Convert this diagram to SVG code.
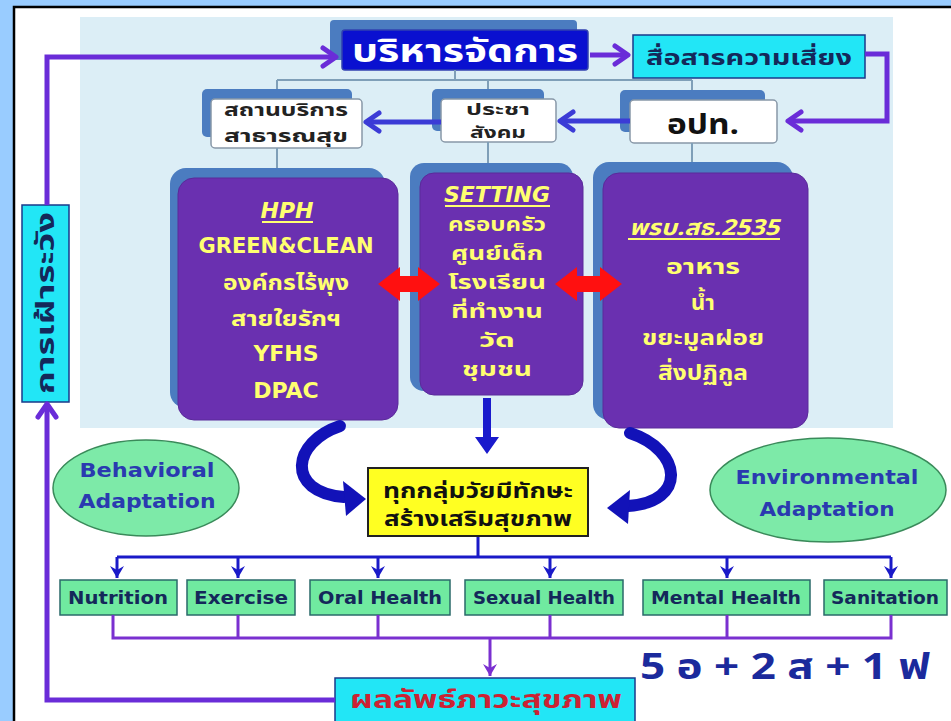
<svg xmlns="http://www.w3.org/2000/svg" width="951" height="721" viewBox="0 0 951 721">
<defs>
<style>
.th{font-family:"Noto Sans Thai","Noto Sans Thai UI","Loma","Garuda","Tahoma","DejaVu Sans",sans-serif;font-weight:bold}
.en{font-family:"DejaVu Sans","Liberation Sans",sans-serif;font-weight:bold}
.yel{fill:#ffff70;font-size:22px;text-anchor:middle}
.sm{font-size:19px}
.shadow{fill:#4b7cc0}
.purple{fill:#6a30b0;stroke:#5a2a9a;stroke-width:1}
.white{fill:#ffffff;stroke:#8898a8;stroke-width:1.5}
.cyan{fill:#22e6f6;stroke:#1a3a8a;stroke-width:1.5}
.green{fill:#70eaa0;stroke:#2a6a6a;stroke-width:1.5}
.glab{fill:#14285a;font-size:17px;text-anchor:middle}
.ell{fill:#2a3ab0;font-size:20px;text-anchor:middle}
.thin{stroke:#7f9fb8;stroke-width:2;fill:none}
.pline{stroke:#6a2cd8;stroke-width:5;fill:none}
.bline{stroke:#3b3bd6;stroke-width:5;fill:none}
.br{stroke:#1a1ac8;stroke-width:3;fill:none}
.pr{stroke:#7a30d0;stroke-width:3;fill:none}
.curve{stroke:#1212b8;stroke-width:12;fill:none;stroke-linecap:round}
.ul{stroke:#ffff70;stroke-width:2}
</style>
<marker id="chevP" markerUnits="userSpaceOnUse" markerWidth="24" markerHeight="24" viewBox="0 0 24 24" refX="21" refY="12" orient="auto">
<path d="M8,3 L21,12 L8,21" fill="none" stroke="#6a2cd8" stroke-width="5" stroke-linecap="round" stroke-linejoin="round"/>
</marker>
<marker id="chevB" markerUnits="userSpaceOnUse" markerWidth="24" markerHeight="24" viewBox="0 0 24 24" refX="21" refY="12" orient="auto">
<path d="M8,3 L21,12 L8,21" fill="none" stroke="#3b3bd6" stroke-width="5" stroke-linecap="round" stroke-linejoin="round"/>
</marker>
<marker id="triB" markerUnits="userSpaceOnUse" markerWidth="16" markerHeight="16" viewBox="0 0 16 16" refX="14" refY="8" orient="auto">
<path d="M2,1 L14,8 L2,15 L6,8 Z" fill="#1a1ac8"/>
</marker>
<marker id="triP" markerUnits="userSpaceOnUse" markerWidth="16" markerHeight="16" viewBox="0 0 16 16" refX="14" refY="8" orient="auto">
<path d="M2,1 L14,8 L2,15 L6,8 Z" fill="#7a30d0"/>
</marker>
</defs>

<!-- background -->
<rect x="0" y="0" width="951" height="721" fill="#99ccff"/>
<rect x="14" y="7" width="937" height="714" fill="#ffffff"/>
<path d="M14,721 V7 H951" fill="none" stroke="#000" stroke-width="2.5"/>
<rect x="80" y="17" width="813" height="411" fill="#dceef6"/>

<!-- top management -->
<g id="n-manage">
<rect class="shadow" x="330" y="20" width="247" height="40" rx="4"/>
<rect x="342" y="30" width="246" height="40" rx="3" fill="#0a10d0" stroke="#3040b0" stroke-width="1.5"/>
<text class="th" x="465" y="62" font-size="32" fill="#ffffff" text-anchor="middle" textLength="226" lengthAdjust="spacingAndGlyphs">บริหารจัดการ</text>
</g>
<g id="n-risk">
<rect class="cyan" x="633" y="35" width="232" height="43"/>
<text class="th" x="749" y="65" font-size="21" fill="#14285a" text-anchor="middle" textLength="206" lengthAdjust="spacingAndGlyphs">สื่อสารความเสี่ยง</text>
</g>
<g id="n-service">
<rect class="shadow" x="202" y="89" width="150" height="48" rx="5"/>
<rect class="white" x="211" y="99" width="151" height="49" rx="4"/>
<text class="th" x="286" y="116" font-size="17" fill="#222" text-anchor="middle" textLength="124" lengthAdjust="spacingAndGlyphs">สถานบริการ</text>
<text class="th" x="286" y="142" font-size="17" fill="#222" text-anchor="middle" textLength="124" lengthAdjust="spacingAndGlyphs">สาธารณสุข</text>
</g>
<g id="n-civil">
<rect class="shadow" x="432" y="89" width="112" height="42" rx="5"/>
<rect class="white" x="441" y="99" width="115" height="43" rx="4"/>
<text class="th" x="498" y="115" font-size="15" fill="#222" text-anchor="middle" textLength="64" lengthAdjust="spacingAndGlyphs">ประชา</text>
<text class="th" x="498" y="138" font-size="15" fill="#222" text-anchor="middle" textLength="56" lengthAdjust="spacingAndGlyphs">สังคม</text>
</g>
<g id="n-lao">
<rect class="shadow" x="620" y="90" width="145" height="42" rx="5"/>
<rect class="white" x="630" y="100" width="147" height="43" rx="4"/>
<text class="th" x="703" y="134" font-size="29" fill="#111" text-anchor="middle" textLength="72" lengthAdjust="spacingAndGlyphs">อปท.</text>
</g>

<!-- purple boxes -->
<g id="n-hph">
<rect class="shadow" x="170" y="168" width="215" height="240" rx="16"/>
<rect class="purple" x="178" y="178" width="220" height="242" rx="16"/>
<text class="en yel" x="287" y="218" font-style="italic">HPH</text>
<line class="ul" x1="262" y1="222" x2="313" y2="222"/>
<text class="en yel" x="286" y="253" textLength="175" lengthAdjust="spacingAndGlyphs">GREEN&amp;CLEAN</text>
<text class="th yel" x="286" y="290" textLength="126" lengthAdjust="spacingAndGlyphs">องค์กรไร้พุง</text>
<text class="th yel" x="286" y="326" textLength="110" lengthAdjust="spacingAndGlyphs">สายใยรักฯ</text>
<text class="en yel" x="286" y="361">YFHS</text>
<text class="en yel" x="286" y="398">DPAC</text>
</g>
<g id="n-setting">
<rect class="shadow" x="410" y="163" width="163" height="228" rx="14"/>
<rect class="purple" x="420" y="173" width="163" height="222" rx="14"/>
<text class="en yel" x="497" y="202" font-style="italic" textLength="106" lengthAdjust="spacingAndGlyphs">SETTING</text>
<line class="ul" x1="445" y1="206" x2="550" y2="206"/>
<text class="th yel sm" x="497" y="231" textLength="98" lengthAdjust="spacingAndGlyphs">ครอบครัว</text>
<text class="th yel sm" x="497" y="260" textLength="92" lengthAdjust="spacingAndGlyphs">ศูนย์เด็ก</text>
<text class="th yel sm" x="497" y="289" textLength="98" lengthAdjust="spacingAndGlyphs">โรงเรียน</text>
<text class="th yel sm" x="497" y="318" textLength="92" lengthAdjust="spacingAndGlyphs">ที่ทำงาน</text>
<text class="th yel sm" x="497" y="347" textLength="36" lengthAdjust="spacingAndGlyphs">วัด</text>
<text class="th yel sm" x="497" y="376" textLength="70" lengthAdjust="spacingAndGlyphs">ชุมชน</text>
</g>
<g id="n-act">
<rect class="shadow" x="593" y="162" width="200" height="258" rx="16"/>
<rect class="purple" x="603" y="173" width="205" height="255" rx="16"/>
<text class="th yel" x="704" y="235" font-style="italic" textLength="150" lengthAdjust="spacingAndGlyphs">พรบ.สธ.2535</text>
<line class="ul" x1="628" y1="239" x2="780" y2="239"/>
<text class="th yel" x="703" y="274" textLength="74" lengthAdjust="spacingAndGlyphs">อาหาร</text>
<text class="th yel" x="703" y="310">น้ำ</text>
<text class="th yel" x="703" y="345" textLength="122" lengthAdjust="spacingAndGlyphs">ขยะมูลฝอย</text>
<text class="th yel" x="703" y="380" textLength="90" lengthAdjust="spacingAndGlyphs">สิ่งปฏิกูล</text>
</g>

<!-- surveillance -->
<g id="n-surv">
<rect class="cyan" x="22" y="205" width="47" height="197"/>
<text class="th" transform="translate(54,303) rotate(-90)" font-size="24" fill="#14285a" text-anchor="middle" textLength="182" lengthAdjust="spacingAndGlyphs">การเฝ้าระวัง</text>
</g>

<!-- ellipses -->
<g id="n-behav">
<ellipse cx="146" cy="488" rx="93" ry="48" fill="#7deaa8" stroke="#3a8a5a" stroke-width="1.5"/>
<text class="en ell" x="147" y="477" textLength="135" lengthAdjust="spacingAndGlyphs">Behavioral</text>
<text class="en ell" x="147" y="508" textLength="137" lengthAdjust="spacingAndGlyphs">Adaptation</text>
</g>
<g id="n-env">
<ellipse cx="828" cy="490" rx="118" ry="52" fill="#7deaa8" stroke="#3a8a5a" stroke-width="1.5"/>
<text class="en ell" x="827" y="484" textLength="183" lengthAdjust="spacingAndGlyphs">Environmental</text>
<text class="en ell" x="827" y="516" textLength="135" lengthAdjust="spacingAndGlyphs">Adaptation</text>
</g>

<!-- yellow -->
<g id="n-skill">
<rect x="368" y="468" width="220" height="68" fill="#ffff22" stroke="#222" stroke-width="2"/>
<text class="th" x="478" y="498" font-size="21" fill="#111" text-anchor="middle" textLength="190" lengthAdjust="spacingAndGlyphs">ทุกกลุ่มวัยมีทักษะ</text>
<text class="th" x="478" y="526" font-size="21" fill="#111" text-anchor="middle" textLength="188" lengthAdjust="spacingAndGlyphs">สร้างเสริมสุขภาพ</text>
</g>

<!-- green boxes -->
<g id="n-nutrition"><rect class="green" x="60" y="580" width="117" height="35"/><text class="en glab" x="118" y="604" textLength="100" lengthAdjust="spacingAndGlyphs">Nutrition</text></g>
<g id="n-exercise"><rect class="green" x="187" y="580" width="108" height="35"/><text class="en glab" x="241" y="604" textLength="94" lengthAdjust="spacingAndGlyphs">Exercise</text></g>
<g id="n-oral"><rect class="green" x="310" y="580" width="140" height="35"/><text class="en glab" x="380" y="604" textLength="124" lengthAdjust="spacingAndGlyphs">Oral Health</text></g>
<g id="n-sexual"><rect class="green" x="465" y="580" width="158" height="35"/><text class="en glab" x="544" y="604" textLength="142" lengthAdjust="spacingAndGlyphs">Sexual Health</text></g>
<g id="n-mental"><rect class="green" x="643" y="580" width="167" height="35"/><text class="en glab" x="726" y="604" textLength="150" lengthAdjust="spacingAndGlyphs">Mental Health</text></g>
<g id="n-sanitation"><rect class="green" x="824" y="580" width="123" height="35"/><text class="en glab" x="885" y="604" textLength="108" lengthAdjust="spacingAndGlyphs">Sanitation</text></g>

<!-- outcome -->
<g id="n-outcome">
<rect class="cyan" x="335" y="678" width="300" height="44"/>
<text class="th" x="486" y="708" font-size="24" fill="#cc2233" text-anchor="middle" textLength="272" lengthAdjust="spacingAndGlyphs">ผลลัพธ์ภาวะสุขภาพ</text>
</g>
<g id="n-formula">
<text class="th" x="640" y="679" font-size="36" fill="#1b2a9c" textLength="290" lengthAdjust="spacingAndGlyphs">5 อ + 2 ส + 1 ฟ</text>
</g>

<!-- connectors -->
<g id="connectors">
<path class="thin" d="M455,70 V80 M277,80 H692 M277,80 V89 M488,80 V89 M692,80 V90"/>
<path class="thin" d="M277,148 V168 M488,142 V163 M692,143 V162"/>
<path class="pline" d="M47,205 V57 H336" marker-end="url(#chevP)"/>
<path class="pline" d="M590,55 H628" marker-end="url(#chevP)"/>
<path class="pline" d="M865,54 H887 V121 H788" marker-end="url(#chevP)"/>
<path class="bline" d="M630,121 H560" marker-end="url(#chevB)"/>
<path class="bline" d="M441,122 H366" marker-end="url(#chevB)"/>
<path class="pline" d="M335,700 H47 V404" marker-end="url(#chevP)"/>
<polygon points="378,284 400,267 400,276 418,276 418,267 440,284 418,301 418,292 400,292 400,301" fill="#ff1010"/>
<polygon points="555,284 577,267 577,276 600,276 600,267 622,284 600,301 600,292 577,292 577,301" fill="#ff1010"/>
<polygon points="483,398 491,398 491,437 499,437 487,454 475,437 483,437" fill="#1a1acc"/>
<path class="curve" d="M340,426 C292,442 285,492 344,497"/>
<polygon points="366,499 343,481 346,516" fill="#1212b8"/>
<path class="curve" d="M630,433 C682,450 688,502 628,506"/>
<polygon points="607,508 630,490 628,524" fill="#1212b8"/>
<path class="br" d="M478,537 V557 M117,557 H891"/>
<path class="br" d="M117,557 V578" marker-end="url(#triB)"/>
<path class="br" d="M238,557 V578" marker-end="url(#triB)"/>
<path class="br" d="M378,557 V578" marker-end="url(#triB)"/>
<path class="br" d="M550,557 V578" marker-end="url(#triB)"/>
<path class="br" d="M727,557 V578" marker-end="url(#triB)"/>
<path class="br" d="M891,557 V578" marker-end="url(#triB)"/>
<path class="pr" d="M113,615 V638 H891 V615 M238,615 V638 M378,615 V638 M550,615 V638 M727,615 V638"/>
<path class="pr" d="M490,638 V676" marker-end="url(#triP)"/>
</g>
</svg>
